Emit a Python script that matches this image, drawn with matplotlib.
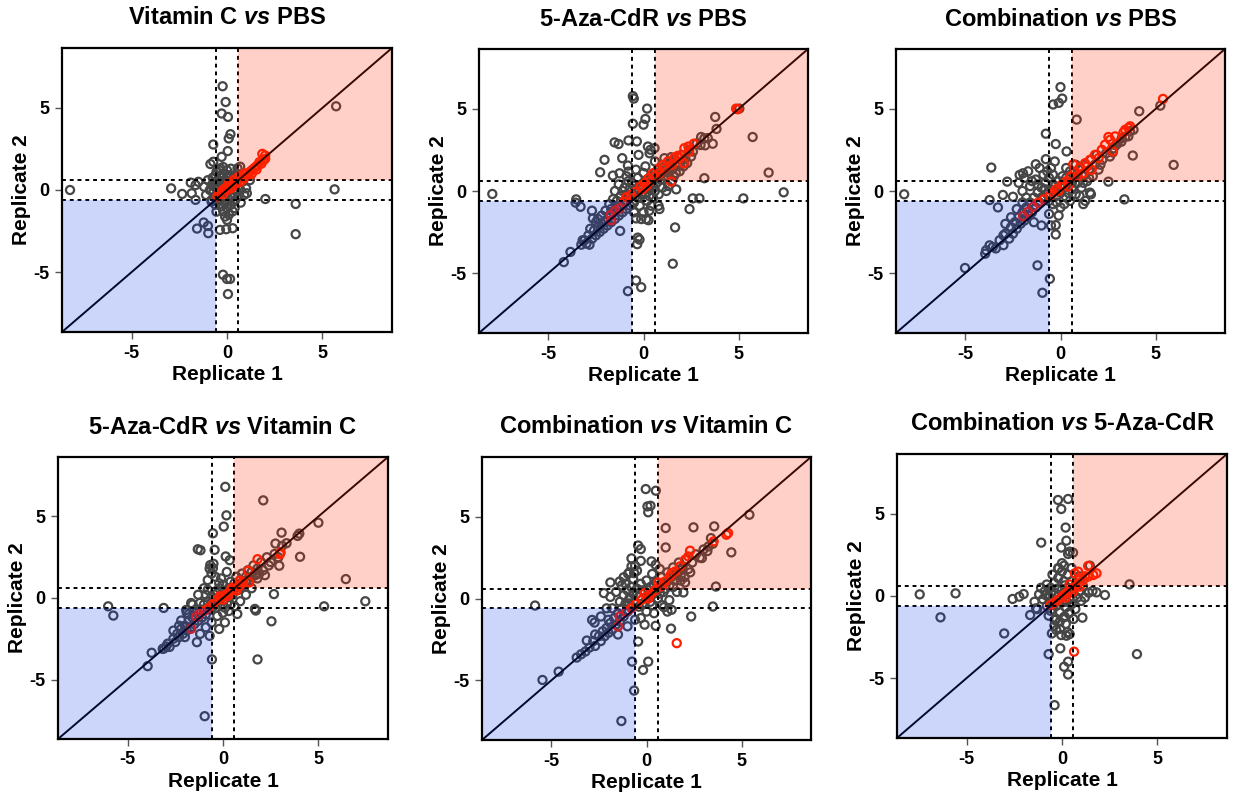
import numpy as np
import matplotlib
matplotlib.use("Agg")
import matplotlib.pyplot as plt
from matplotlib.patches import Rectangle

plt.rcParams['font.family'] = ['Liberation Sans', 'DejaVu Sans']
plt.rcParams['mathtext.fontset'] = 'custom'
plt.rcParams['mathtext.it'] = 'Liberation Sans:bold:italic'
plt.rcParams['axes.unicode_minus'] = False

# ---- data: (replicate 1, replicate 2) log2 fold changes
titles = [
    ("Vitamin C", "PBS"),
    ("5-Aza-CdR", "PBS"),
    ("Combination", "PBS"),
    ("5-Aza-CdR", "Vitamin C"),
    ("Combination", "Vitamin C"),
    ("Combination", "5-Aza-CdR"),
]

vitc_pbs_grey = [
    (-8.23, 0.0), (-2.93, 0.1), (-2.35, -0.24), (-1.9, 0.45), (-1.65, 0.3), (-1.5, 0.5),
    (-1.85, -0.2), (-1.65, -0.6), (-1.22, -1.98), (-1.0, -2.19), (-1.57, -2.35), (-0.98, -2.63),
    (-0.23, 6.32), (-0.07, 5.36), (-0.28, 4.66), (0.05, 4.45), (0.18, 3.4), (0.09, 3.14),
    (-0.72, 2.77), (0.04, 2.37), (-0.28, 2.02), (-0.87, 1.58), (-0.72, 1.72), (-0.35, 1.32),
    (5.72, 5.1), (5.64, 0.04), (2.01, -0.55), (3.6, -0.85), (3.6, -2.69),
    (-0.21, -5.16), (0.0, -5.42), (0.16, -5.42), (0.05, -6.34), (0.72, -0.77),
    (0.3, -2.33), (-0.04, -2.39), (-0.37, -2.43), (0.0, -1.82), (-0.1, -1.62), (-0.55, -1.32),
    (1.04, -0.2), (0.55, 1.32), (0.69, 1.42), (-0.81, -0.71),
    (-0.6, 0.5), (-0.4, 0.8), (-0.2, 1.0), (0.0, 1.2), (-0.5, 0.2), (-0.3, 0.4), (-0.1, 0.6),
    (0.1, 0.9), (-0.7, -0.1), (-0.5, -0.3), (-0.3, 0.0), (-0.1, 0.2), (0.1, 0.4), (0.3, 0.7),
    (-0.4, -0.6), (-0.2, -0.4), (0.0, -0.2), (0.2, 0.1), (0.4, 0.3), (-0.1, -0.8), (0.1, -0.6),
    (0.3, -0.4), (0.5, -0.1), (-0.3, -1.0), (0.0, -1.1), (0.2, -0.9), (0.4, -0.7), (0.6, -0.4),
    (0.7, 0.0), (0.8, 0.5), (-0.8, 0.3), (-0.9, 0.0), (-0.6, 0.9), (-0.2, 1.4), (0.2, 1.3),
    (-0.4, 1.2), (0.3, -1.3), (-0.2, -1.3), (0.1, -1.5), (0.9, -0.3), (1.0, 0.1), (1.2, 0.6),
    (0.6, 0.9), (-1.0, 0.6), (-1.2, 0.2), (-1.1, -0.3), (-0.8, -0.6), (-0.6, -0.9), (0.5, 1.0),
    (0.4, -1.1), (-0.75, 0.75), (-0.55, 1.1), (-0.35, -0.2), (-0.15, -0.6), (0.15, -0.3),
    (0.25, 0.55), (-0.65, 0.2), (-0.45, 0.55), (-0.25, 0.75), (0.05, 0.75), (0.45, 0.05),
]
vitc_pbs_red = [
    (-0.5, -0.4), (-0.4, -0.2), (-0.3, -0.1), (-0.2, 0.0), (-0.1, 0.1), (0.0, 0.0), (0.1, 0.2),
    (0.2, 0.1), (0.2, 0.3), (0.3, 0.4), (0.4, 0.3), (0.5, 0.5), (0.6, 0.6), (0.7, 0.5), (0.8, 0.8),
    (0.9, 0.7), (1.0, 1.0), (1.1, 0.9), (1.2, 1.1), (1.3, 1.2), (1.4, 1.3), (1.5, 1.4), (1.6, 1.5),
    (1.7, 1.7), (1.8, 1.6), (1.9, 1.8), (2.0, 1.9), (2.0, 2.1), (1.85, 2.2), (0.9, 1.0), (0.6, 0.8),
    (0.35, 0.6), (0.1, 0.4), (-0.2, -0.25), (1.3, 1.0), (1.55, 1.25),
]

aza_pbs_grey = [
    (-7.95, -0.18), (-0.56, 5.78), (-0.51, 5.63), (0.19, 5.02), (0.1, 4.39), (0.0, 4.04),
    (-0.56, 4.1), (-1.52, 2.96), (-1.31, 2.86), (-0.79, 3.08), (-0.35, 3.02), (-2.05, 1.9),
    (-2.28, 1.14), (-1.12, 2.0), (-0.26, 2.2), (0.23, 2.71), (0.32, 2.3), (-1.61, 0.94),
    (-1.26, 1.08), (-0.82, 1.55), (-0.79, 1.18), (-3.57, -0.71), (-3.31, -0.96), (-3.54, -0.51),
    (-2.71, -1.2), (-2.66, -1.67), (-1.23, -2.43), (-3.84, -3.71), (-4.19, -4.33), (-3.27, -3.27),
    (-2.84, -3.27), (-3.1, -3.0), (-0.39, -1.67), (-0.12, -1.71), (0.14, -1.71), (0.26, -1.78),
    (-0.3, -2.84), (-0.21, -2.96), (-0.33, -3.24), (-0.39, -5.45), (-0.12, -5.86), (-0.82, -6.1),
    (1.54, -4.43), (1.66, -2.22), (2.42, -1.1), (2.59, -0.45), (2.94, -0.45), (1.72, 0.1),
    (0.79, -0.9), (0.84, -1.1), (3.2, 0.78), (5.25, -0.45), (7.37, -0.08), (6.58, 1.12),
    (5.74, 3.29), (3.77, 4.51), (3.84, 3.78), (5.04, 5.02), (3.64, 2.88), (3.24, 2.78),
    (3.38, 3.22), (3.03, 3.29), (2.15, 1.69), (1.1, 2.0), (1.45, 2.06), (0.58, 2.61), (0.37, 2.51),
    (-3.2, -3.0), (-3.0, -3.2), (-2.9, -2.7), (-2.7, -2.9), (-2.6, -2.4), (-2.5, -2.7), (-2.4, -2.2),
    (-2.3, -2.5), (-2.2, -2.0), (-2.1, -2.3), (-2.0, -1.8), (-1.9, -2.1), (-1.8, -1.5), (-1.7, -1.9),
    (-1.6, -1.3), (-1.5, -1.7), (-1.4, -1.1), (-1.3, -1.5), (-1.2, -0.9), (-1.1, -1.3), (-1.0, -0.6),
    (-0.9, -1.1), (-0.8, -0.4), (-0.7, -0.9), (-0.6, -0.2), (-0.5, -0.7), (-0.4, 0.1), (-0.3, -0.4),
    (-0.2, 0.3), (-0.1, -0.2), (0.0, 0.5), (0.1, -0.1), (0.2, 0.7), (0.3, 0.1), (0.4, 0.9),
    (0.5, 0.3), (0.6, 1.1), (0.7, 0.5), (0.8, 1.3), (0.9, 0.7), (1.0, 1.4), (1.1, 0.9), (1.2, 1.6),
    (1.3, 1.1), (1.4, 1.8), (1.5, 1.3), (1.6, 1.9), (1.7, 1.5), (1.8, 2.1), (1.9, 1.7), (2.0, 2.2),
    (2.2, 2.0), (2.4, 2.5), (2.6, 2.4), (2.8, 2.9), (3.0, 2.8), (3.2, 3.2),
    (-1.5, 0.0), (-1.3, 0.4), (-1.0, 0.2), (-0.8, 0.6), (-1.2, -0.3), (-0.9, 0.9), (-0.6, 0.5),
    (-0.3, 0.8), (0.0, 1.1), (0.2, -0.6), (0.5, -0.4), (0.8, -0.2), (1.0, 0.2), (1.3, 0.3),
    (1.5, 0.6), (0.4, -0.9), (-0.2, -0.9), (0.0, -1.3), (0.3, -1.2), (-0.5, -1.3), (-1.8, -0.8),
    (-2.0, -1.2), (-1.6, -0.5), (-2.5, -1.9), (-2.8, -2.3), (1.2, 0.0), (1.6, 0.9), (1.9, 1.2),
    (2.1, 1.5), (-0.4, 1.3), (0.1, 1.5), (0.6, 1.8),
    (-1.1, 0.0), (-0.7, 0.2), (-0.4, -0.3), (-0.1, 0.2), (0.2, 0.3), (0.5, 0.7), (0.8, 0.9),
    (1.1, 1.2), (1.4, 1.4), (-0.9, -0.2), (-0.5, 0.3), (0.3, -0.3), (0.6, 0.0), (-1.4, -0.6),
    (-1.7, -1.1), (-2.2, -1.5), (-2.4, -1.7), (1.7, 1.1), (2.3, 1.7), (2.5, 2.1),
]
aza_pbs_red = [
    (4.87, 5.02), (4.95, 4.98), (2.64, 2.88), (2.36, 2.71), (2.15, 2.61), (1.8, 2.14), (1.63, 2.04),
    (1.28, 1.8), (1.02, 1.59), (0.75, 1.33), (0.49, 1.08), (0.26, 0.78), (0.05, 0.47), (-0.16, 0.27),
    (-0.39, -0.04), (-0.65, -0.24), (-0.91, -0.39), (-1.03, -0.65), (-1.73, -1.47), (-1.49, -1.2),
    (-1.26, -1.06), (-1.7, -1.78), (1.45, 0.57), (2.12, 1.69), (0.58, 0.88), (0.84, 1.08),
    (1.1, 1.39), (0.32, 0.57), (0.15, 0.3), (-0.05, 0.1), (1.5, 1.6), (1.9, 2.0), (2.4, 2.4),
]

combo_pbs_grey = [
    (-8.22, -0.2), (0.0, 6.33), (0.09, 5.63), (-0.39, 5.27), (-0.09, 5.37), (0.85, 4.35),
    (-0.77, 3.49), (-0.25, 2.86), (-3.64, 1.43), (-1.3, 1.63), (-2.15, 0.98), (-1.97, 1.08),
    (-0.77, 1.94), (0.32, 2.41), (-2.8, 0.57), (-3.03, -0.24), (-2.5, -0.35), (-3.73, -0.55),
    (-3.29, -1.0), (-5.02, -4.69), (-3.91, -3.61), (-3.73, -3.31), (-3.96, -3.82), (-3.56, -3.41),
    (-1.21, -4.53), (-0.56, -5.35), (-0.95, -6.2), (-0.25, -2.08), (-0.25, -2.65), (1.2, -0.8),
    (1.55, -0.1), (3.36, -0.51), (2.52, 0.57), (5.95, 1.59), (3.8, 2.16), (4.14, 4.86),
    (5.25, 5.2), (3.66, 3.63), (3.84, 3.73), (3.57, 3.33), (3.22, 3.22), (2.92, 2.8), (2.75, 2.35),
    (-3.4, -3.5), (-3.2, -3.0), (-3.0, -3.3), (-2.9, -2.6), (-2.7, -2.9), (-2.6, -2.2), (-2.5, -2.6),
    (-2.4, -1.9), (-2.3, -2.3), (-2.2, -1.6), (-2.1, -2.0), (-2.0, -1.3), (-1.9, -1.8), (-1.8, -1.0),
    (-1.7, -1.5), (-1.6, -0.7), (-1.5, -1.3), (-1.4, -0.4), (-1.3, -1.0), (-1.2, -0.1), (-1.1, -0.7),
    (-1.0, 0.2), (-0.9, -0.4), (-0.8, 0.5), (-0.7, -0.2), (-0.6, 0.8), (-0.5, 0.1), (-0.4, 1.0),
    (-0.3, 0.3), (-0.2, -0.3), (-0.1, 0.6), (0.0, -0.1), (0.1, 0.9), (0.2, 0.2), (0.3, -0.4),
    (0.4, 0.5), (0.5, 1.2), (0.6, 0.1), (0.7, 0.8), (0.8, -0.2), (0.9, 0.5), (1.0, 1.3), (1.1, 0.2),
    (1.2, 0.9), (1.3, 1.6), (1.4, 0.6), (1.5, 1.2), (1.6, 1.9), (1.7, 0.9), (1.8, 1.6), (1.9, 2.2),
    (2.0, 1.3), (2.2, 1.9), (2.4, 2.3), (2.6, 2.1), (2.8, 2.6), (3.0, 2.9), (3.2, 3.0), (3.4, 3.3),
    (-2.2, 0.5), (-1.9, 0.8), (-1.6, 0.3), (-2.0, 0.0), (-1.7, 1.2), (-1.3, 0.7), (-0.9, 1.0),
    (-1.1, 1.4), (-0.5, 1.4), (0.2, -0.8), (0.5, -0.6), (1.0, -0.3), (1.3, -0.6), (0.0, -1.0),
    (-0.4, -0.8), (-0.1, -1.5), (-0.6, -1.4), (-0.5, -2.1), (-1.0, -2.1), (-1.4, -1.9),
    (-2.6, -1.6), (-2.9, -2.0), (-3.0, -2.7), (0.8, 1.6), (0.3, 1.4), (1.6, -0.2), (-0.3, 1.8),
    (-1.5, 0.6), (-1.2, 0.4), (-0.8, 0.1), (-0.4, 0.4), (0.0, 0.3), (0.3, 0.8), (0.6, 0.5),
    (0.9, 0.9), (1.2, 0.5), (-1.0, -0.4), (-0.6, -0.6), (-0.2, -0.7), (0.4, -0.1), (-1.8, -0.4),
    (-2.3, -1.1), (-2.0, -0.7), (1.5, 0.8), (2.1, 1.6), (0.7, 1.1), (-0.7, 1.2),
]
combo_pbs_red = [
    (5.39, 5.61), (3.57, 3.84), (3.4, 3.73), (3.66, 3.94), (3.31, 3.57), (2.87, 3.33), (2.52, 3.29),
    (2.61, 3.12), (2.34, 2.82), (2.17, 2.51), (1.81, 2.2), (1.55, 1.9), (1.29, 1.69), (1.02, 1.43),
    (0.76, 1.18), (0.53, 0.88), (0.32, 0.61), (0.05, 0.37), (-0.21, 0.12), (-0.39, -0.1),
    (-0.56, -0.29), (-0.88, -0.51), (-1.18, -0.71), (-1.44, -0.96), (-1.71, -1.27), (-1.97, -1.53),
    (2.75, 2.41), (0.67, 1.63), (1.64, 1.29), (1.2, 1.08), (0.4, 0.27), (2.0, 2.0), (1.4, 1.5),
    (0.9, 0.9), (0.2, 0.4), (-0.1, 0.0),
]

aza_vitc_grey = [
    (0.12, 6.82), (2.11, 5.99), (0.18, 5.07), (0.04, 4.38), (-0.53, 3.97), (-1.32, 2.99),
    (-1.18, 2.93), (-0.44, 2.95), (0.14, 2.55), (0.35, 2.32), (-0.67, 2.02), (-0.53, 1.83),
    (5.0, 4.62), (3.07, 4.01), (4.0, 3.95), (3.91, 3.81), (4.04, 2.53), (3.33, 3.36), (2.75, 3.34),
    (2.95, 1.98), (6.44, 1.16), (2.67, 0.24), (5.3, -0.51), (7.46, -0.2), (1.72, -0.77),
    (1.67, -0.67), (0.75, -0.98), (2.54, -1.43), (1.81, -3.77), (-0.58, -3.77), (-0.96, -7.25),
    (-6.02, -0.51), (-5.75, -1.08), (-3.11, -0.61), (-1.37, -2.71), (-0.7, -2.32), (-3.74, -3.36),
    (-3.95, -4.18), (-3.16, -3.12), (-2.98, -2.97), (-1.67, -0.31), (-1.93, -0.73), (-2.19, -1.38),
    (-3.1, -3.1), (-2.9, -2.8), (-2.8, -3.0), (-2.6, -2.5), (-2.5, -2.7), (-2.4, -2.2), (-2.3, -2.4),
    (-2.2, -1.9), (-2.1, -2.2), (-2.0, -1.7), (-1.9, -2.0), (-1.8, -1.4), (-1.7, -1.8), (-1.6, -1.2),
    (-1.5, -1.6), (-1.4, -0.9), (-1.3, -1.4), (-1.2, -0.7), (-1.1, -1.2), (-1.0, -0.4), (-0.9, -1.0),
    (-0.8, -0.2), (-0.7, -0.7), (-0.6, 0.1), (-0.5, -0.5), (-0.4, 0.4), (-0.3, -0.2), (-0.2, 0.6),
    (-0.1, 0.0), (0.0, 0.8), (0.1, 0.2), (0.2, -0.3), (0.3, 0.6), (0.4, 1.0), (0.5, 0.2), (0.6, 0.9),
    (0.7, 1.3), (0.8, 0.5), (0.9, 1.1), (1.0, 1.5), (1.1, 0.8), (1.2, 1.3), (1.3, 1.7), (1.4, 1.1),
    (1.5, 1.6), (1.6, 2.0), (1.7, 1.4), (1.8, 1.8), (2.0, 2.2), (2.1, 1.7), (2.3, 2.5), (2.5, 2.2),
    (2.7, 2.7), (2.9, 2.5), (3.1, 3.2), (-1.0, 0.6), (-0.8, 1.1), (-0.6, 1.5), (-0.4, 1.3),
    (-0.7, 1.8), (-1.3, 0.2), (-1.6, -0.4), (-1.9, -0.9), (0.3, -0.8), (0.6, -0.5), (0.9, -0.2),
    (1.2, 0.2), (1.5, 0.6), (0.0, -0.9), (-0.3, -1.1), (-0.6, -1.5), (-0.9, -1.8), (-1.2, -2.2),
    (0.2, 1.6), (-0.1, 1.2), (1.8, 1.2), (2.2, 1.4), (-2.6, -2.0), (-2.0, -2.4), (-0.5, 2.1),
    (0.1, -1.5), (-0.2, -1.9),
    (-0.9, 0.2), (-0.6, -0.3), (-0.3, 0.3), (0.0, 0.1), (0.3, 0.3), (0.6, 0.6), (0.9, 0.7),
    (1.2, 1.0), (-1.2, -0.3), (-0.8, 0.5), (-0.2, 0.9), (0.4, -0.4), (0.1, -0.6), (-0.4, -0.6),
    (1.5, 1.3), (1.9, 1.5), (2.4, 2.0), (-1.5, -1.1), (-1.8, -1.0), (-2.3, -1.7),
]
aza_vitc_red = [
    (2.98, 2.69), (3.02, 2.79), (1.81, 2.38), (1.32, 1.67), (1.37, 0.96), (1.05, 0.96), (0.88, 0.75),
    (0.61, 0.55), (0.35, 0.35), (0.14, 0.2), (-0.09, 0.04), (-0.35, -0.16), (-0.53, -0.37),
    (-0.74, -0.61), (-0.96, -0.77), (-1.23, -0.98), (-1.4, -1.14), (-1.67, -1.89), (0.88, 1.06),
    (0.53, 0.65), (0.26, 0.14), (0.7, 0.45), (-0.18, 0.1), (0.0, -0.1), (0.45, 0.6),
]

combo_vitc_grey = [
    (-0.04, 6.69), (0.49, 6.59), (0.05, 5.63), (0.21, 5.67), (0.09, 5.27), (1.01, 4.31), (1.01, 3.12),
    (2.47, 4.35), (3.56, 4.41), (3.39, 3.69), (4.46, 2.82), (5.41, 5.12), (3.65, 0.73), (3.49, -0.49),
    (2.35, -1.1), (1.29, -1.84), (0.48, -1.67), (0.09, -3.86), (-0.18, -4.37), (-0.76, -3.86),
    (-0.65, -5.63), (-1.32, -7.49), (-0.44, -2.63), (-5.86, -0.43), (-5.47, -4.98), (-4.62, -4.47),
    (-3.67, -3.61), (-3.44, -3.41), (-3.21, -3.24), (-3.14, -2.57), (-2.86, -1.31), (-2.73, -1.47),
    (-2.24, 0.33), (-1.9, 0.98), (-1.41, 1.04), (-0.79, 2.45), (-0.44, 3.24), (-0.3, 3.02),
    (0.26, 2.27), (0.48, 2.06), (-0.79, 1.96), (-0.65, 1.55), (-0.97, 1.51), (1.32, -0.69),
    (0.92, -0.53), (1.94, 0.37), (2.03, 0.98), (2.91, 2.47), (3.26, 3.18), (3.49, 3.35),
    (-3.0, -3.0), (-2.8, -2.6), (-2.7, -2.9), (-2.5, -2.3), (-2.4, -2.6), (-2.3, -2.0), (-2.2, -2.3),
    (-2.1, -1.8), (-2.0, -2.1), (-1.9, -1.5), (-1.8, -1.9), (-1.7, -1.2), (-1.6, -1.6), (-1.5, -0.9),
    (-1.4, -1.4), (-1.3, -0.6), (-1.2, -1.1), (-1.1, -0.3), (-1.0, -0.8), (-0.9, 0.0), (-0.8, -0.5),
    (-0.7, 0.3), (-0.6, -0.2), (-0.5, 0.6), (-0.4, 0.1), (-0.3, 0.9), (-0.2, -0.3), (-0.1, 0.4),
    (0.0, 1.1), (0.1, 0.1), (0.2, 0.7), (0.3, -0.4), (0.4, 0.3), (0.5, 1.0), (0.6, 0.0), (0.7, 0.6),
    (0.8, 1.3), (0.9, 0.4), (1.0, 1.0), (1.1, 1.6), (1.2, 0.8), (1.3, 1.3), (1.4, 1.9), (1.5, 1.1),
    (1.6, 1.6), (1.7, 2.2), (1.8, 1.4), (1.9, 1.9), (2.1, 2.4), (2.2, 1.8), (2.4, 2.2), (2.6, 2.7),
    (2.8, 2.5), (3.0, 3.0), (3.2, 2.9), (-1.6, 0.4), (-1.3, 0.8), (-1.0, 0.5), (-0.7, 1.2),
    (-1.2, 1.3), (-0.5, 1.7), (-0.9, 1.6), (-0.6, 2.0), (-1.9, 0.1), (-2.1, -0.6), (-2.4, -1.1),
    (0.4, -0.9), (0.8, -0.4), (1.2, -0.1), (1.6, 0.4), (0.0, -0.8), (-0.3, -1.2), (-0.1, -1.6),
    (-0.6, -1.3), (-1.0, -1.7), (-1.5, -2.2), (0.3, 1.5), (0.7, 1.8), (2.0, 1.3), (1.1, -0.8),
    (-2.7, -2.2), (-0.3, 2.3),
    (-1.2, 0.2), (-0.8, 0.7), (-0.5, 0.3), (-0.2, 0.5), (0.1, 0.5), (0.4, 0.8), (0.7, 0.3),
    (1.0, 0.6), (-0.9, -0.3), (-0.4, -0.5), (0.2, -0.2), (-1.4, -0.2), (-1.8, -0.6), (1.4, 0.7),
    (1.8, 1.1), (2.3, 1.6), (-2.0, -1.3), (-1.1, 0.9),
]
combo_vitc_red = [
    (1.59, -2.73), (4.29, 4.0), (4.2, 3.9), (3.53, 3.49), (2.29, 2.92), (2.03, 2.37), (1.76, 1.96),
    (1.5, 1.65), (1.23, 1.35), (0.97, 1.04), (0.71, 0.73), (0.44, 0.49), (0.23, 0.29), (0.0, 0.12),
    (-0.26, -0.08), (-0.53, -0.33), (-0.79, -0.59), (-1.06, -0.8), (-1.41, -1.1), (-1.5, -1.71),
    (2.2, 2.57), (1.32, 1.55), (0.62, 0.98), (-0.09, 0.33), (0.85, 0.8), (0.1, 0.0),
]

combo_aza_grey = [
    (-7.46, 0.1), (-5.58, 0.16), (-6.37, -1.3), (-3.03, -2.28), (-2.59, -0.18), (-2.24, -0.04),
    (-2.01, 0.12), (-1.67, -1.16), (-1.44, -0.35), (-1.36, -0.75), (-1.09, 3.25), (-0.21, 5.85),
    (0.32, 5.91), (-0.04, 5.3), (0.19, 4.17), (0.23, 3.37), (-0.04, 2.95), (0.32, 2.56), (0.4, 2.7),
    (0.58, 2.64), (0.11, 1.85), (-0.18, 1.69), (1.46, 1.85), (3.54, 0.71), (2.25, 0.06), (1.81, 0.22),
    (1.07, -1.32), (3.93, -3.54), (-0.53, -2.28), (-0.3, -2.07), (-0.04, -2.38), (0.23, -2.42),
    (0.4, -2.32), (-0.09, -3.19), (-0.7, -3.54), (0.32, -4.0), (0.11, -4.31), (0.32, -4.78),
    (-0.39, -6.65), (-0.39, -1.46), (-0.12, -1.57), (0.14, -1.26), (0.35, -1.06),
    (-1.0, -0.2), (-0.9, 0.3), (-0.8, -0.6), (-0.7, 0.0), (-0.6, 0.5), (-0.6, -0.9), (-0.5, -0.3),
    (-0.4, 0.2), (-0.4, 0.8), (-0.3, -0.6), (-0.2, 0.0), (-0.2, 1.1), (-0.1, -1.0), (0.0, 0.4),
    (0.0, -0.4), (0.1, 0.9), (0.1, -1.3), (0.2, 0.1), (0.2, -0.7), (0.3, 1.3), (0.3, 0.5),
    (0.4, -0.2), (0.4, -1.0), (0.5, 0.9), (0.5, -0.5), (0.6, 0.2), (0.7, -0.8), (0.7, 0.6),
    (0.8, -0.1), (0.9, 0.3), (1.0, -0.3), (1.1, 0.6), (1.2, -0.1), (-0.8, 0.7), (-1.1, 0.5),
    (-0.5, 1.3), (0.0, 1.5), (-0.3, -1.4), (0.2, -1.7), (-0.1, -2.0), (0.3, -2.2), (0.6, -1.4),
    (-0.7, -1.2), (-1.3, -0.8), (-1.2, 0.1), (1.4, 0.2), (1.6, 0.3), (0.9, 1.2), (0.5, 1.7),
    (-0.4, -1.8), (0.0, 2.0), (-0.2, 1.7),
    (-0.85, 0.05), (-0.55, 0.25), (-0.25, 0.45), (0.05, 0.15), (0.25, -0.35), (-0.15, -0.25),
    (-0.45, -0.55), (0.55, -0.15), (0.15, 0.65), (-0.65, -0.35),
]
combo_aza_red = [
    (0.63, -3.39), (1.81, 1.38), (1.37, 1.83), (1.64, 1.28), (1.37, 1.18), (1.11, 0.98), (0.85, 0.77),
    (0.67, 0.61), (0.49, 0.43), (0.32, 0.26), (0.14, 0.1), (-0.04, -0.08), (-0.21, -0.24),
    (-0.39, -0.39), (-0.6, -0.55), (0.85, 1.48), (0.67, 1.38), (0.58, 0.26), (0.93, 0.57),
    (1.2, 1.2), (0.4, 0.7), (0.2, -0.1),
]

panel_data = [
    (vitc_pbs_grey, vitc_pbs_red),
    (aza_pbs_grey, aza_pbs_red),
    (combo_pbs_grey, combo_pbs_red),
    (aza_vitc_grey, aza_vitc_red),
    (combo_vitc_grey, combo_vitc_red),
    (combo_aza_grey, combo_aza_red),
]

cutoff = np.log2(1.5)
lim = 8.65

# axes boxes in pixels: left, top, right, bottom
boxes = [
    (62, 48, 392, 332), (479, 49, 808, 333), (896, 49, 1225, 333),
    (58, 457, 388, 739), (482, 457, 811, 740), (897, 454, 1227, 738),
]

W, H = 1239, 798
fig = plt.figure(figsize=(W / 100, H / 100), dpi=100)

for (treat, ctrl), (grey, red), (l, t, r, b) in zip(titles, panel_data, boxes):
    ax = fig.add_axes([l / W, 1 - b / H, (r - l) / W, (b - t) / H])
    g = np.array(grey)
    rd = np.array(red)
    ax.scatter(g[:, 0], g[:, 1], s=34, facecolors='none', edgecolors='#464646',
               linewidths=1.6, zorder=2)
    ax.scatter(rd[:, 0], rd[:, 1], s=34, facecolors='none', edgecolors='#ff1e00',
               linewidths=1.6, zorder=3)

    for v in (-cutoff, cutoff):
        ax.axvline(v, color='black', ls=(0, (2.0, 2.0)), lw=1.4, zorder=4)
        ax.axhline(v, color='black', ls=(0, (2.0, 2.0)), lw=1.4, zorder=4)
    ax.plot([-lim, lim], [-lim, lim], color='black', lw=1.4, zorder=4)

    # translucent up / down quadrants laid over everything
    ax.add_patch(Rectangle((cutoff, cutoff), lim - cutoff, lim - cutoff,
                           facecolor=(1.0, 0.16, 0.02), alpha=0.22, lw=0, zorder=5))
    ax.add_patch(Rectangle((-lim, -lim), lim - cutoff, lim - cutoff,
                           facecolor=(0.0, 0.18, 0.9), alpha=0.2, lw=0, zorder=5))

    ax.set_xlim(-lim, lim)
    ax.set_ylim(-lim, lim)
    ax.set_xticks([-5, 0, 5])
    ax.set_yticks([-5, 0, 5])
    ax.tick_params(length=5, width=1, pad=4, labelsize=13, color='#555555')
    for lab in ax.get_xticklabels() + ax.get_yticklabels():
        lab.set_fontweight('bold')
    for sp in ax.spines.values():
        sp.set_linewidth(1.6)
        sp.set_zorder(6)

    ax.text(0.5, -0.151, 'Replicate 1', transform=ax.transAxes, ha='center', va='center',
            fontsize=15, fontweight='bold')
    ax.text(-0.122, 0.5, 'Replicate 2', transform=ax.transAxes, ha='center', va='center',
            fontsize=15, fontweight='bold', rotation=90)
    ax.text(0.5, 1 + 30 / (b - t), treat + r' $\mathit{vs}$ ' + ctrl, transform=ax.transAxes,
            ha='center', va='center', fontsize=17, fontweight='bold')

fig.savefig('out.png', dpi=100)
